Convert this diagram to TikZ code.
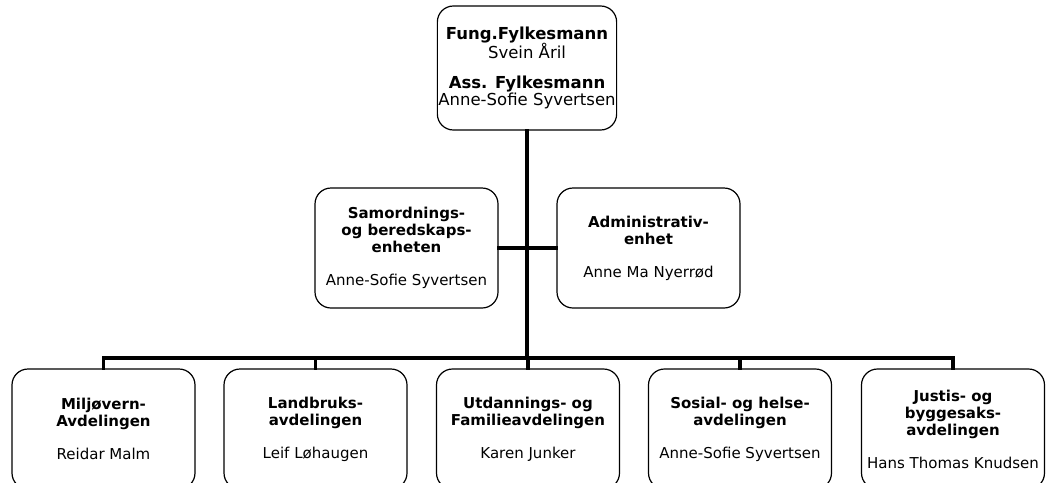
\documentclass[tikz,border=0pt]{standalone}
\usepackage{fontspec}
\setmainfont{DejaVu Sans}
\usetikzlibrary{positioning}

\tikzset{
  unit/.style={draw=black, fill=white, line width=1.2pt, rounded corners=16pt,
    minimum width=183pt, minimum height=120pt, align=center, inner sep=1pt,
    font=\fontsize{15}{17}\selectfont},
  conn/.style={line width=3.4pt, line cap=rect},
}

\begin{document}
\begin{tikzpicture}[x=1pt, y=-1pt]
	\clip (0,0) rectangle (1046,482);
	\fill[white] (0,0) rectangle (1046,482);

	% ledelse
	\node[unit, minimum width=178pt, minimum height=124pt, font=\fontsize{16.5}{17.5}\selectfont] (top) at (527,68)
		{\textbf{Fung.Fylkesmann}\\Svein Åril\\[12pt]\textbf{Ass. Fylkesmann}\\Anne-Sofie Syvertsen};

	% staber
	\node[unit] (samord) at (406.5,248)
		{\textbf{Samordnings-}\\\textbf{og beredskaps-}\\\textbf{enheten}\\[16pt]Anne-Sofie Syvertsen};
	\node[unit] (admin) at (648.5,248)
		{\textbf{Administrativ-}\\\textbf{enhet}\\[16pt]Anne Ma Nyerrød};

	% avdelinger
	\coordinate (bus) at (528,358);
	\node[unit] (milj) at (103.5,429)
		{\textbf{Miljøvern-}\\\textbf{Avdelingen}\\[16pt]Reidar Malm};
	\node[unit] (land) at (315.5,429)
		{\textbf{Landbruks-}\\\textbf{avdelingen}\\[16pt]Leif Løhaugen};
	\node[unit] (utd) at (528,429)
		{\textbf{Utdannings- og}\\\textbf{Familieavdelingen}\\[16pt]Karen Junker};
	\node[unit] (sos) at (740,429)
		{\textbf{Sosial- og helse-}\\\textbf{avdelingen}\\[16pt]Anne-Sofie Syvertsen};
	\node[unit] (just) at (953,429)
		{\textbf{Justis- og}\\\textbf{byggesaks-}\\\textbf{avdelingen}\\[16pt]Hans Thomas Knudsen};

	% linjer
	\draw[conn] (top.south) -- (top.south |- bus);
	\draw[conn] (samord.east) -- (admin.west);
	\draw[conn] (milj.north |- bus) -- (just.north |- bus);
	\foreach \n in {milj, land, utd, sos, just}
		\draw[conn] (\n.north) -- (\n.north |- bus);
\end{tikzpicture}
\end{document}
